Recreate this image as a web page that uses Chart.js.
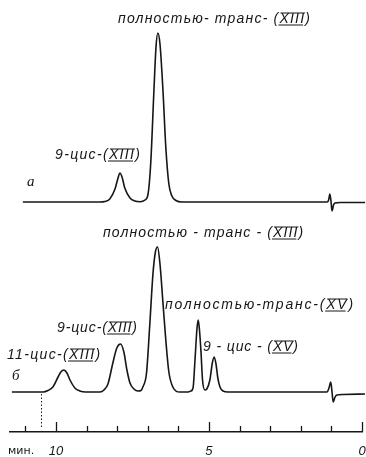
<!DOCTYPE html>
<html lang="ru">
<head>
<meta charset="utf-8">
<script src="https://cdn.jsdelivr.net/npm/chart.js@4.4.1/dist/chart.umd.min.js"></script>
<style>
html, body { margin: 0; padding: 0; background: #fff; }
#wrap { width: 366px; height: 457px; }
</style>
</head>
<body>
<div id="wrap"><canvas id="chromatogram" width="366" height="457"></canvas></div>
<script>
// Хроматограмма а: время удерживания (мин) и сигнал детектора (усл. ед.)
const timesA = [11.08, 8.56, 8.40, 8.24, 8.07, 7.97, 7.91, 7.84, 7.75, 7.58, 7.42, 7.25,
    7.09, 6.99, 6.90, 6.80, 6.73, 6.67, 6.60, 6.50, 6.41, 6.31, 6.21, 6.08, 5.88,
    1.14, 1.09, 1.05, 1.01, 0.98, 0.93, 0.88, 0.72, -0.10];
const signalA = [0, 0, 0.5, 3, 13, 24, 29, 25, 14, 4, 1, 0.3,
    2, 8, 40, 110, 155, 169, 158, 110, 55, 18, 6, 1.5, 0,
    0, 2, 8, 0, -9, -3, -1, -0.5, -0.5];

// Хроматограмма б
const timesB = [11.44, 10.42, 10.26, 10.10, 9.93, 9.84, 9.74, 9.64, 9.54, 9.38, 9.22, 9.02,
    8.56, 8.43, 8.30, 8.14, 8.01, 7.89, 7.78, 7.68, 7.58, 7.45, 7.32, 7.22,
    7.16, 7.04, 6.93, 6.83, 6.75, 6.68, 6.60, 6.50, 6.41, 6.31, 6.18, 5.95,
    5.69, 5.59, 5.52, 5.46, 5.39, 5.35, 5.31, 5.26, 5.21, 5.13,
    5.07, 4.97, 4.89, 4.83, 4.77, 4.71, 4.64, 4.54, 4.38,
    1.14, 1.08, 1.02, 0.98, 0.94, 0.88, 0.82, 0.62, -0.10];
const signalB = [0, 0, 1.5, 5, 15, 20, 22, 19, 12, 4, 1, 0,
    0, 2, 8, 29, 44, 48, 40, 22, 9, 3, 1, 1.5,
    5, 19, 69, 118, 140, 145, 128, 88, 52, 20, 5, 0,
    0, 1, 4, 30, 64, 72, 62, 40, 12, 2,
    3, 12, 29, 35, 28, 14, 5, 1, 0,
    0, 4, 10, 0, -10, -5, -3, -2.5, -2];

// Ось времени
const tickValues = [0, 1, 2, 3, 4, 5, 6, 7, 8, 9, 10, 11];
const tickLabels = ['0', '', '', '', '', '5', '', '', '', '', '10', ''];
const markerTime = 10.5;

// Подписи пиков
const annotations = [
    { text: 'полностью- транс- (XIII)', x: 118, y: 19, w: 192 },
    { text: '9-цис-(XIII)', x: 55, y: 155, w: 85 },
    { text: 'полностью - транс - (XIII)', x: 103, y: 233, w: 200 },
    { text: '9-цис-(XIII)', x: 57, y: 328, w: 80 },
    { text: '11-цис-(XIII)', x: 7, y: 355, w: 93 },
    { text: 'полностью-транс-(XV)', x: 165, y: 305, w: 188 },
    { text: '9 - цис - (XV)', x: 203, y: 347, w: 95 }
];
const panelLetters = [
    { text: 'а', x: 27, y: 182 },
    { text: 'б', x: 12, y: 376 }
];

const ink = '#161616';

function toPoints(times, values) {
    return times.map((t, i) => ({ x: t, y: values[i] }));
}

// Рисуем риски оси, пунктир и подписи
const decorPlugin = {
    id: 'decor',
    afterDraw(chart) {
        const ctx = chart.ctx;
        const xs = chart.scales.x;
        const area = chart.chartArea;
        ctx.save();
        ctx.strokeStyle = ink;
        ctx.lineWidth = 1.3;
        tickValues.forEach((v, i) => {
            const px = Math.round(xs.getPixelForValue(v)) + 0.5;
            const len = tickLabels[i] ? 10 : 6;
            ctx.beginPath();
            ctx.moveTo(px, area.bottom);
            ctx.lineTo(px, area.bottom - len);
            ctx.stroke();
        });

        // пунктир у 10.5 мин
        const mx = Math.round(xs.getPixelForValue(markerTime)) + 0.5;
        ctx.lineWidth = 1;
        ctx.setLineDash([1.5, 2]);
        ctx.beginPath();
        ctx.moveTo(mx, chart.scales.yB.getPixelForValue(0) + 2);
        ctx.lineTo(mx, area.bottom - 4);
        ctx.stroke();
        ctx.setLineDash([]);

        ctx.fillStyle = ink;
        ctx.textBaseline = 'middle';
        ctx.textAlign = 'left';
        ctx.font = 'italic 14px "Liberation Sans"';
        annotations.forEach(a => {
            ctx.letterSpacing = '0px';
            const w0 = ctx.measureText(a.text).width;
            const ls = (a.w - w0) / (a.text.length - 1);
            ctx.letterSpacing = ls.toFixed(2) + 'px';
            ctx.fillText(a.text, a.x, a.y);
            // черта над и под римской цифрой
            const i0 = a.text.indexOf('(') + 1;
            const i1 = a.text.indexOf(')');
            const x0 = a.x + ctx.measureText(a.text.slice(0, i0)).width;
            const x1 = a.x + ctx.measureText(a.text.slice(0, i1)).width - ls;
            ctx.lineWidth = 1;
            ctx.beginPath();
            ctx.moveTo(x0 + 1, a.y - 6);
            ctx.lineTo(x1 + 1, a.y - 6);
            ctx.moveTo(x0 - 1, a.y + 6);
            ctx.lineTo(x1 - 1, a.y + 6);
            ctx.stroke();
        });
        ctx.letterSpacing = '0px';

        ctx.font = 'italic 15px "Liberation Serif"';
        panelLetters.forEach(p => ctx.fillText(p.text, p.x, p.y));

        ctx.font = '11px "DejaVu Sans"';
        ctx.fillText('мин.', 8, 451);
        ctx.restore();
    }
};

const traceStyle = {
    borderColor: ink,
    borderWidth: 1.6,
    pointRadius: 0,
    fill: false,
    cubicInterpolationMode: 'monotone',
    clip: 4
};

new Chart(document.getElementById('chromatogram'), {
    type: 'line',
    data: {
        datasets: [
            Object.assign({ label: 'а', data: toPoints(timesA, signalA), yAxisID: 'yA' }, traceStyle),
            Object.assign({ label: 'б', data: toPoints(timesB, signalB), yAxisID: 'yB' }, traceStyle)
        ]
    },
    options: {
        responsive: false,
        animation: false,
        events: [],
        layout: { padding: { left: 10, right: 4, top: 20, bottom: 0 } },
        plugins: {
            legend: { display: false },
            tooltip: { enabled: false }
        },
        scales: {
            x: {
                type: 'linear',
                reverse: true,
                min: 0,
                max: 11.5,
                afterBuildTicks: s => { s.ticks = tickValues.map(v => ({ value: v })); },
                afterFit: s => { s.height = 25; },
                grid: { display: false, drawTicks: false },
                border: { display: true, color: ink, width: 1.4 },
                ticks: {
                    autoSkip: false,
                    maxRotation: 0,
                    padding: 13,
                    color: ink,
                    font: { family: 'Liberation Sans', style: 'italic', size: 13, lineHeight: 1 },
                    callback: v => tickLabels[tickValues.indexOf(v)] || ''
                }
            },
            // нижняя панель (б) объявлена первой: в стопке она ложится вниз
            yB: {
                type: 'linear',
                position: 'left',
                stack: 'traces',
                stackWeight: 212,
                min: -40,
                max: 172,
                display: false
            },
            yA: {
                type: 'linear',
                position: 'left',
                stack: 'traces',
                stackWeight: 200,
                min: -18,
                max: 182,
                display: false
            }
        }
    },
    plugins: [decorPlugin]
});
</script>
</body>
</html>
